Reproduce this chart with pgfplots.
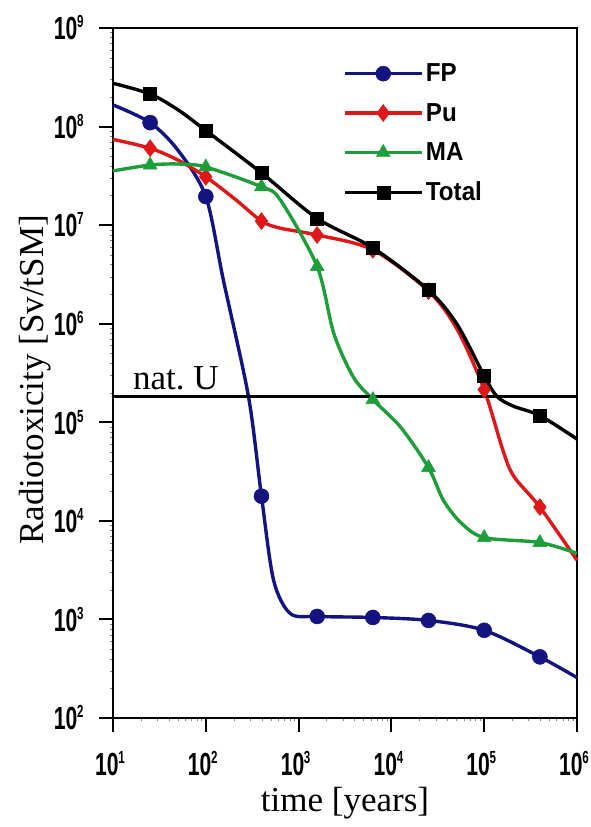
\documentclass[border=0pt]{standalone}
\usepackage{fontspec}
\usepackage{pgfplots}
\usepackage{pgfplotstable}
\pgfplotsset{compat=1.18}
\setmainfont{Liberation Serif}
\newfontfamily\tickfont{Liberation Sans}[FakeStretch=0.66]
\newfontfamily\legfont{Liberation Sans}[FakeStretch=0.93]

\definecolor{fpblue}{RGB}{20,20,128}
\definecolor{pured}{RGB}{222,24,24}
\definecolor{magreen}{RGB}{30,158,58}

% tick label: 10 with a raised exponent
\newcommand\tl[1]{{\tickfont\bfseries\fontsize{32bp}{32bp}\selectfont 10\kern-0.3bp\raisebox{12bp}{\fontsize{17.5bp}{17.5bp}\selectfont #1}}}

% radiotoxicity per tonne of heavy metal, by component
\pgfplotstableread{
x y
10 1.66e8
25.12 1.096e8
50.1 5.75e7
100 1.95e7
154.9 2.75e6
288.4 1.82e5
398.1 1.78e4
537 2512
812.8 1148
1584.9 1072
6309.6 1047
25119 977
100000 776
398107 417
1000000 257
}\fp
\pgfplotstableread{
x y
10 7.41e7
25.12 6.03e7
50.1 4.57e7
100 3.09e7
208.9 1.82e7
398.1 1.10e7
631 9.33e6
1584.9 7.94e6
6309.6 5.62e6
25119 2.14e6
51286 8.71e5
100000 2.14e5
158489 5.25e4
208930 2.82e4
398107 1.38e4
1000000 3981
}\pu
\pgfplotstableread{
x y
10 3.55e7
25.12 4.07e7
50.1 4.17e7
100 3.89e7
398.1 2.45e7
631 1.82e7
1584.9 3.80e6
2399 7.94e5
3890 2.88e5
6309.6 1.70e5
12589 8.91e4
25119 3.47e4
36308 1.62e4
56234 9550
100000 6761
398107 6026
1000000 4677
}\ma
\pgfplotstableread{
x y
10 2.75e8
25.12 2.14e8
50.1 1.48e8
100 9.12e7
398.1 3.39e7
1584.9 1.17e7
6309.6 5.89e6
25119 2.19e6
51286 9.77e5
100000 2.95e5
138038 1.82e5
208930 1.45e5
398107 1.17e5
1000000 6.76e4
}\total

\begin{document}
\begin{tikzpicture}
\begin{loglogaxis}[
  scale only axis,
  width=464bp, height=690bp,
  xmin=10, xmax=1e6, ymin=1e2, ymax=1e9,
  clip=false,
  axis line style={line width=2bp},
  xtick pos=bottom, ytick pos=left,
  tick align=outside,
  major tick length=14bp,
  minor xtick={}, minor ytick={},
  major tick style={draw=black, line width=2bp},
  xtick={1e1,1e2,1e3,1e4,1e5,1e6},
  xticklabels={\tl{1},\tl{2},\tl{3},\tl{4},\tl{5},\tl{6}},
  ytick={1e2,1e3,1e4,1e5,1e6,1e7,1e8,1e9},
  yticklabels={\tl{2},\tl{3},\tl{4},\tl{5},\tl{6},\tl{7},\tl{8},\tl{9}},
  xticklabel style={yshift=-16bp, xshift=-3bp},
  yticklabel style={xshift=-12bp},
  xlabel={time [years]},
  ylabel={Radiotoxicity [Sv/tSM]},
  label style={font=\fontsize{35bp}{35bp}\selectfont},
  xlabel style={at={(axis description cs:0.5,-0.123)}, anchor=center},
  ylabel style={at={(axis description cs:-0.168,0.49)}, anchor=center},
  legend style={draw=none, fill=none, at={(axis description cs:0.49,0.951)},
    anchor=north west, row sep=20bp,
    font=\legfont\bfseries\fontsize{26bp}{26bp}\selectfont,
    nodes={inner xsep=2bp, inner ysep=0bp}},
  legend cell align=left,
  legend image code/.code={\draw[mark repeat=2,mark phase=2]
    plot coordinates {(0bp,0bp) (38bp,0bp) (77bp,0bp)};},
  every axis plot/.append style={line width=3.4bp, smooth},
  tickline/.style={black, line width=2bp, sharp plot, forget plot},
]
\addplot[fpblue, mark=*, mark size=7.5bp, mark options={solid, fill=fpblue, line width=0.5bp},
  mark indices={2,4,7,10,11,12,13,14}] table {\fp};
\addlegendentry{FP}
\addplot[pured, mark=diamond*, mark size=8.5bp, mark options={solid, fill=pured, line width=0.5bp},
  mark indices={2,4,6,8,9,10,12,15}] table {\pu};
\addlegendentry{Pu}
\addplot[magreen, mark=triangle*, mark size=8bp, mark options={solid, fill=magreen, line width=0.5bp},
  mark indices={2,4,5,7,10,12,15,16}] table {\ma};
\addlegendentry{MA}
\addplot[black, mark=square*, mark size=6.5bp, mark options={solid, fill=black, line width=0.5bp},
  mark indices={2,4,5,6,7,8,10,13}] table {\total};
\addlegendentry{Total}
% activity of the natural uranium used
\addplot[black, line width=2.4bp, sharp plot, forget plot] coordinates {(10,1.82e5) (1e6,1.82e5)};
\node[anchor=base west, font=\fontsize{35bp}{35bp}\selectfont, inner sep=0pt]
  at (axis cs:16.4,2.15e5) {nat.~U};
% outward decade ticks below the time axis
\addplot[tickline] coordinates {(1e1,100) (1e1,74)};
\addplot[tickline] coordinates {(1e2,100) (1e2,74)};
\addplot[tickline] coordinates {(1e3,100) (1e3,74)};
\addplot[tickline] coordinates {(1e4,100) (1e4,74)};
\addplot[tickline] coordinates {(1e5,100) (1e5,74)};
\addplot[tickline] coordinates {(1e6,100) (1e6,74)};
% outward decade ticks left of the radiotoxicity axis
\addplot[tickline] coordinates {(10,1e2) (7.06,1e2)};
\addplot[tickline] coordinates {(10,1e3) (7.06,1e3)};
\addplot[tickline] coordinates {(10,1e4) (7.06,1e4)};
\addplot[tickline] coordinates {(10,1e5) (7.06,1e5)};
\addplot[tickline] coordinates {(10,1e6) (7.06,1e6)};
\addplot[tickline] coordinates {(10,1e7) (7.06,1e7)};
\addplot[tickline] coordinates {(10,1e8) (7.06,1e8)};
\addplot[tickline] coordinates {(10,1e9) (7.06,1e9)};
\end{loglogaxis}
\pgfresetboundingbox
\path[use as bounding box] (-113bp,-109bp) rectangle (478bp,718bp);
\end{tikzpicture}
\end{document}
